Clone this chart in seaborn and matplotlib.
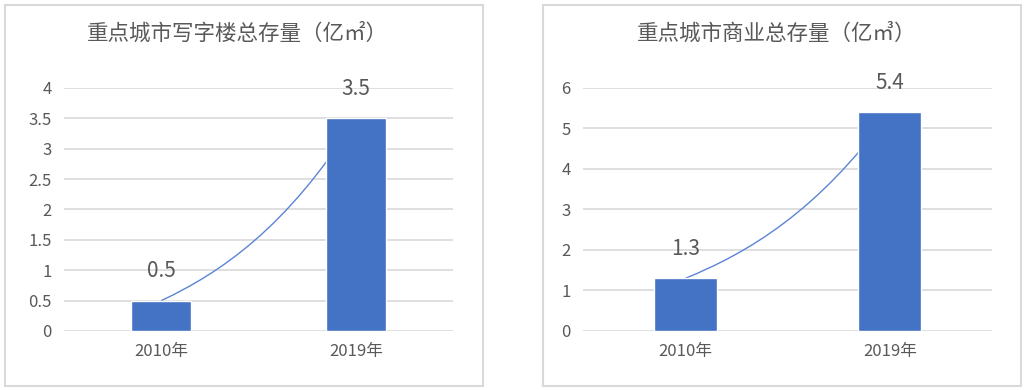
import pandas as pd
import seaborn as sns
import matplotlib.pyplot as plt
from matplotlib.patches import Rectangle, PathPatch
from matplotlib.path import Path

# 数据
years = ["2010年", "2019年"]
office_stock = [0.5, 3.5]
commercial_stock = [1.3, 5.4]
titles = ["重点城市写字楼总存量（亿㎡）", "重点城市商业总存量（亿㎥）"]
office_ticks = [0, 0.5, 1, 1.5, 2, 2.5, 3, 3.5, 4]
commercial_ticks = [0, 1, 2, 3, 4, 5, 6]

BAR = "#4472C4"
LINE = "#5B84D6"
TEXT = "#595959"
GRID = "#D9D9D9"

sns.set_theme(style="white")
plt.rcParams["font.family"] = ["Noto Sans CJK SC", "DejaVu Sans"]

fig = plt.figure(figsize=(10.28, 3.9), dpi=100)

# 外框
for x0 in (5, 543):
    fig.patches.append(Rectangle((x0 / 1028, 4 / 390), 478 / 1028, 381 / 390,
                                 transform=fig.transFigure, fill=False,
                                 edgecolor=GRID, linewidth=1.5))

panels = [
    (office_stock, office_ticks, titles[0], [64 / 1028, 0.1513, 389 / 1028, 0.6231], 237),
    (commercial_stock, commercial_ticks, titles[1], [583 / 1028, 0.1513, 409 / 1028, 0.6231], 777),
]

for values, ticks, title, rect, title_x in panels:
    ax = fig.add_axes(rect)
    df = pd.DataFrame({"year": years, "value": values})
    sns.barplot(data=df, x="year", y="value", color=BAR, width=0.31,
                saturation=1, ax=ax, zorder=3)

    # 平滑趋势线（连接两个柱顶）
    x0, x1 = 0, 1
    y0, y1 = values
    dy = y1 - y0
    verts = [(x0, y0), (x0 + 0.3, y0 + 0.15 * dy), (x0 + 0.65, y0 + 0.4 * dy), (x1, y1)]
    path = Path(verts, [Path.MOVETO, Path.CURVE4, Path.CURVE4, Path.CURVE4])
    ax.add_patch(PathPatch(path, fill=False, edgecolor=LINE, linewidth=1.0, zorder=2))

    for i, v in enumerate(values):
        ax.annotate(f"{v}", (i, v), xytext=(0, 21), textcoords="offset points",
                    ha="center", va="center", fontsize=15, color=TEXT, zorder=4)

    ax.set_xlim(-0.5, 1.5)
    ax.set_ylim(0, ticks[-1])
    ax.set_yticks(ticks)
    ax.set_yticklabels([f"{t:g}" for t in ticks])
    ax.set_xlabel("")
    ax.set_ylabel("")
    ax.yaxis.grid(True, color=GRID, linewidth=1.2, zorder=0)
    ax.set_axisbelow(True)
    sns.despine(ax=ax, left=True, bottom=True)
    ax.tick_params(axis="y", length=0, pad=9, labelsize=12, labelcolor=TEXT)
    ax.tick_params(axis="x", length=0, pad=9, labelsize=12, labelcolor=TEXT)

    fig.text(title_x / 1028, 1 - 34 / 390, title, ha="center", va="center",
             fontsize=15.5, color=TEXT)

fig.savefig("out.png", dpi=100, facecolor="white")
